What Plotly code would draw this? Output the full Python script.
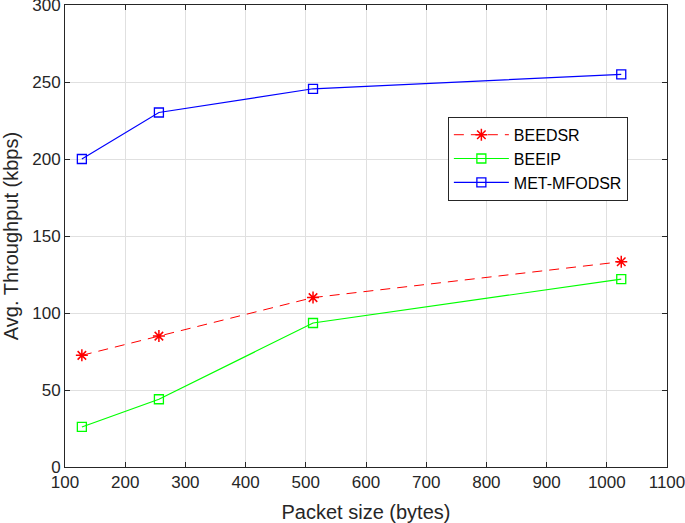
import plotly.graph_objects as go

packet_size = [128, 256, 512, 1024]
beedsr = [72.5, 85, 110, 133.3]
beeip = [26, 44, 93.5, 122]
met_mfodsr = [200, 230.2, 245.6, 255]

x_ticks = list(range(100, 1101, 100))
y_ticks = list(range(0, 301, 50))

FONT = "Liberation Sans, Arial"
TXT = "#262626"

fig = go.Figure()
fig.add_trace(go.Scatter(x=packet_size, y=beedsr, name="BEEDSR", mode="lines+markers",
                         line=dict(color="#ff0000", width=1, dash="10px,7px"),
                         marker=dict(symbol="asterisk-open", size=10, color="#ff0000",
                                     line=dict(color="#ff0000", width=1.5))))
fig.add_trace(go.Scatter(x=packet_size, y=beeip, name="BEEIP", mode="lines+markers",
                         line=dict(color="#00ff00", width=1.2),
                         marker=dict(symbol="square-open", size=9, color="#00ff00",
                                     line=dict(color="#00ff00", width=1.3))))
fig.add_trace(go.Scatter(x=packet_size, y=met_mfodsr, name="MET-MFODSR", mode="lines+markers",
                         line=dict(color="#0000ff", width=1.2),
                         marker=dict(symbol="square-open", size=9, color="#0000ff",
                                     line=dict(color="#0000ff", width=1.3))))

axis_common = dict(showline=True, linecolor=TXT, linewidth=1, mirror="ticks",
                   ticks="inside", ticklen=5, tickcolor=TXT, automargin=False,
                   ticklabeloverflow="allow",
                   showgrid=True, gridcolor="#e0e0e0", gridwidth=1, zeroline=False,
                   tickfont=dict(family=FONT, size=17, color=TXT))

fig.update_xaxes(range=[100, 1100], tickvals=x_ticks, ticktext=[str(v) for v in x_ticks],
                 title=dict(text="Packet size (bytes)", standoff=13,
                            font=dict(family=FONT, size=20, color=TXT)),
                 **axis_common)
fig.update_yaxes(range=[0, 300], tickvals=y_ticks, ticktext=[str(v) for v in y_ticks],
                 title=dict(text="Avg. Throughput (kbps)", standoff=12,
                            font=dict(family=FONT, size=20, color=TXT)),
                 **axis_common)

fig.update_layout(
    width=685, height=523,
    margin=dict(l=65, r=18, t=5, b=56),
    plot_bgcolor="white", paper_bgcolor="white",
    showlegend=True,
    legend=dict(x=0.636, y=0.758, xanchor="left", yanchor="top",
                bgcolor="white", bordercolor=TXT, borderwidth=1,
                font=dict(family=FONT, size=16, color="black"),
                tracegroupgap=0, itemwidth=55),
)

fig.write_html("out.html", config={"displayModeBar": False},
               post_script="document.body.style.margin='0';document.body.style.overflow='hidden';")
